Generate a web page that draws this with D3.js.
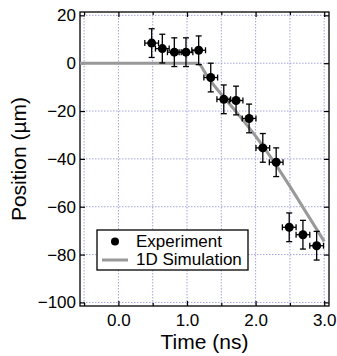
<!DOCTYPE html>
<html>
<head>
<meta charset="utf-8">
<script src="https://cdn.jsdelivr.net/npm/d3@7"></script>
<style>
    body { margin: 0; background: #fff; }
    text { font-family: "Liberation Sans", Arial, sans-serif; fill: #000; }
</style>
</head>
<body>
<svg id="drawing_region"></svg>
<script>
// experiment (time in ns, position in um)
const exp_time = [0.485, 0.64, 0.815, 0.985, 1.17, 1.346, 1.536, 1.715, 1.905, 2.105, 2.30, 2.49, 2.69, 2.89];
const exp_pos = [8.4, 6.1, 4.6, 4.6, 5.4, -6.0, -15.1, -15.6, -23.1, -35.4, -41.4, -68.6, -71.7, -76.3];
const exp_time_err = [0.1, 0.1, 0.1, 0.1, 0.1, 0.1, 0.1, 0.1, 0.1, 0.1, 0.1, 0.1, 0.1, 0.1];
const exp_pos_err = [6, 6, 6, 6, 6, 6, 6, 6, 6, 6, 6, 6, 6, 6];

// 1D simulation
const sim_time = [-0.56, 1.15, 1.2, 1.25, 1.3, 1.5, 1.75, 2.0, 2.25, 2.5, 2.75, 3.0];
const sim_pos = [0, 0, -1, -3.3, -5.6, -13, -21.5, -30.5, -40.5, -51.5, -63, -74.5];

// ticks
const x_ticks = [0, 1, 2, 3];
const x_minor = [-0.5, 0.5, 1.5, 2.5];
const y_ticks = [20, 0, -20, -40, -60, -80, -100];

const legend_labels = ['Experiment', '1D Simulation'];

class ErrorChart{

    constructor(config){
        this.config = {
            parent: config.parent,
            width: config.width || 337,
            height: config.height || 356,
            margin: config.margin || {top:12, right:8, bottom:50, left:80},
            xlabel: config.xlabel || '',
            ylabel: config.ylabel || ''
        }
        this.init();
    }

    init(){
        let self = this;

        self.svg = d3.select(self.config.parent)
            .attr('width', self.config.width)
            .attr('height', self.config.height);

        self.chart = self.svg.append('g')
            .attr('transform', `translate(${self.config.margin.left}, ${self.config.margin.top})`);

        self.inner_width = self.config.width - self.config.margin.left - self.config.margin.right;
        self.inner_height = self.config.height - self.config.margin.top - self.config.margin.bottom;

        self.xscale = d3.scaleLinear()
            .domain([-0.56, 3.07])
            .range([0, self.inner_width]);

        self.yscale = d3.scaleLinear()
            .domain([-101.5, 21.4])
            .range([self.inner_height, 0]);

        self.render();
    }

    render(){
        let self = this;
        const W = self.inner_width, H = self.inner_height;
        const grid_color = '#a3a3de';

        // grid
        self.chart.append('g')
            .selectAll('line')
            .data(x_ticks.concat(x_minor))
            .join('line')
            .attr('x1', d => self.xscale(d)).attr('x2', d => self.xscale(d))
            .attr('y1', 0).attr('y2', H)
            .attr('stroke', grid_color)
            .attr('stroke-width', 1)
            .attr('stroke-dasharray', '1.5,1.5');

        self.chart.append('g')
            .selectAll('line')
            .data(y_ticks)
            .join('line')
            .attr('x1', 0).attr('x2', W)
            .attr('y1', d => self.yscale(d)).attr('y2', d => self.yscale(d))
            .attr('stroke', grid_color)
            .attr('stroke-width', 1)
            .attr('stroke-dasharray', '1.5,1.5');

        // axes, ticks pointing inward
        const bottom = d3.axisBottom(self.xscale).tickValues(x_ticks).tickSize(-5).tickPadding(8).tickFormat(d3.format('.1f'));
        const bottom_minor = d3.axisBottom(self.xscale).tickValues(x_minor).tickSize(-3).tickFormat('');
        const top = d3.axisTop(self.xscale).tickValues(x_ticks).tickSize(-5).tickFormat('');
        const top_minor = d3.axisTop(self.xscale).tickValues(x_minor).tickSize(-3).tickFormat('');
        const left = d3.axisLeft(self.yscale).tickValues(y_ticks).tickSize(-5).tickPadding(4);
        const right = d3.axisRight(self.yscale).tickValues(y_ticks).tickSize(-5).tickFormat('');

        const groups = [
            [bottom, `translate(0, ${H})`],
            [bottom_minor, `translate(0, ${H})`],
            [top, 'translate(0, 0)'],
            [top_minor, 'translate(0, 0)'],
            [left, 'translate(0, 0)'],
            [right, `translate(${W}, 0)`]
        ];
        groups.forEach(([ax, tr]) => {
            const g = self.chart.append('g').attr('transform', tr).call(ax);
            g.select('.domain').remove();
            g.selectAll('line').attr('stroke', '#000').attr('stroke-width', 1.2);
            g.selectAll('text').style('font-size', '17px').attr('fill', '#000');
        });

        // frame
        self.chart.append('rect')
            .attr('width', W).attr('height', H)
            .attr('fill', 'none')
            .attr('stroke', '#000')
            .attr('stroke-width', 1.3);

        // simulation line
        const sim = sim_time.map((t, i) => ({x: t, y: sim_pos[i]}));
        self.line = d3.line()
            .x(d => self.xscale(d.x))
            .y(d => self.yscale(d.y))
            .curve(d3.curveMonotoneX);

        self.chart.append('path')
            .attr('d', self.line(sim))
            .attr('stroke', '#999')
            .attr('stroke-width', 3)
            .attr('fill', 'none');

        // experiment with error bars
        const pts = exp_time.map((t, i) => ({x: t, y: exp_pos[i], ex: exp_time_err[i], ey: exp_pos_err[i]}));
        const cap = 3;
        const eb = self.chart.append('g')
            .attr('stroke', '#000')
            .attr('stroke-width', 1.3);

        pts.forEach(d => {
            const cx = self.xscale(d.x), cy = self.yscale(d.y);
            const y0 = self.yscale(d.y - d.ey), y1 = self.yscale(d.y + d.ey);
            const x0 = self.xscale(d.x - d.ex), x1 = self.xscale(d.x + d.ex);
            eb.append('line').attr('x1', cx).attr('x2', cx).attr('y1', y0).attr('y2', y1);
            eb.append('line').attr('x1', cx - cap).attr('x2', cx + cap).attr('y1', y0).attr('y2', y0);
            eb.append('line').attr('x1', cx - cap).attr('x2', cx + cap).attr('y1', y1).attr('y2', y1);
            eb.append('line').attr('x1', x0).attr('x2', x1).attr('y1', cy).attr('y2', cy);
            eb.append('line').attr('x1', x0).attr('x2', x0).attr('y1', cy - cap).attr('y2', cy + cap);
            eb.append('line').attr('x1', x1).attr('x2', x1).attr('y1', cy - cap).attr('y2', cy + cap);
        });

        self.chart.append('g')
            .selectAll('circle')
            .data(pts)
            .join('circle')
            .attr('cx', d => self.xscale(d.x))
            .attr('cy', d => self.yscale(d.y))
            .attr('r', 4.5)
            .attr('fill', '#000');

        // legend
        const lg = self.svg.append('g').attr('transform', 'translate(97, 230)');
        lg.append('rect')
            .attr('width', 151).attr('height', 40)
            .attr('fill', '#fff')
            .attr('stroke', '#000')
            .attr('stroke-width', 1.3);
        lg.append('circle').attr('cx', 18).attr('cy', 11.5).attr('r', 4).attr('fill', '#000');
        lg.append('line')
            .attr('x1', 5).attr('x2', 31).attr('y1', 30).attr('y2', 30)
            .attr('stroke', '#999').attr('stroke-width', 3);
        lg.selectAll('text.lbl')
            .data(legend_labels)
            .join('text')
            .attr('class', 'lbl')
            .attr('x', 39)
            .attr('y', (d, i) => 17 + i * 18)
            .style('font-size', '17px')
            .text(d => d);

        // axis titles
        self.svg.append('text')
            .attr('x', self.config.margin.left + W / 2)
            .attr('y', 349)
            .attr('text-anchor', 'middle')
            .style('font-size', '21px')
            .text(self.config.xlabel);

        self.svg.append('text')
            .attr('transform', `translate(26, ${self.config.margin.top + H / 2}) rotate(-90)`)
            .attr('text-anchor', 'middle')
            .style('font-size', '21px')
            .text(self.config.ylabel);
    }
}

new ErrorChart({
    parent: '#drawing_region',
    xlabel: 'Time (ns)',
    ylabel: 'Position (\u00b5m)'
});
</script>
</body>
</html>
